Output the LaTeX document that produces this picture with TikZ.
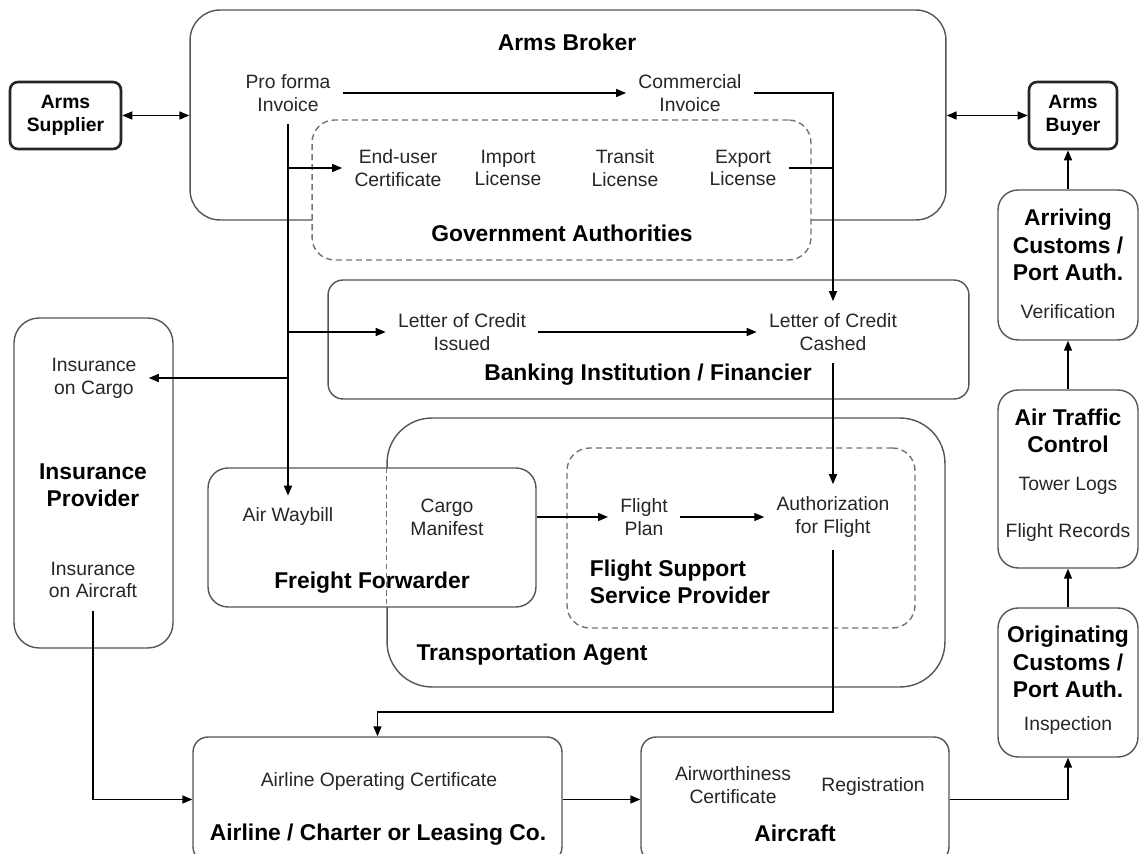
\documentclass[tikz,border=0pt]{standalone}
\usepackage{fontspec}
\setmainfont{Liberation Sans}
\usetikzlibrary{arrows.meta}
\definecolor{edgegray}{RGB}{85,85,85}
\definecolor{dashgray}{RGB}{115,115,115}
\begin{document}
\begin{tikzpicture}[x=0.02cm, y=-0.02cm,
  groupbox/.style={draw=edgegray, line width=0.8pt, rounded corners=#1, inner sep=0pt},
  groupbox/.default=0.5cm,
  realm/.style={draw=dashgray, line width=0.8pt, dash pattern=on 3.5pt off 2.2pt, rounded corners=0.45cm, fill=white, inner sep=0pt},
  party/.style={draw=black!85, line width=1.5pt, rounded corners=0.16cm, align=center, font=\fontsize{11}{13}\selectfont\bfseries},
  item/.style={align=center, inner sep=0.24cm, font=\fontsize{11}{13}\selectfont, text=black!85},
  title/.style={align=center, inner sep=2pt, font=\fontsize{13}{15.5}\selectfont\bfseries},
  joinline/.style={line width=0.8pt},
  link/.style={joinline, -{Triangle[length=2mm, width=1.6mm]}},
  dlink/.style={joinline, {Triangle[length=2mm, width=1.6mm]}-{Triangle[length=2mm, width=1.6mm]}},
]
\clip (0,0) rectangle (1140,854);
% Boxes
\node[groupbox=0.6cm, minimum width=15.12cm, minimum height=4.2cm] (broker) at (568,115) {};
\node[realm, minimum width=9.98cm, minimum height=2.8cm] (gov) at (561.5,190) {};
\node[groupbox=0.3cm, minimum width=12.82cm, minimum height=2.38cm] (bank) at (648.5,339.5) {};
\node[groupbox, minimum width=3.18cm, minimum height=6.6cm] (insurer) at (93.5,483) {};
\node[groupbox=0.9cm, minimum width=11.16cm, minimum height=5.38cm] (transport) at (666,552.5) {};
\node[groupbox=0.4cm, fill=white, minimum width=6.56cm, minimum height=2.78cm] (freight) at (372,537.5) {};
\draw[dashgray, line width=0.8pt, dash pattern=on 3pt off 2pt] (transport.west |- freight.north) -- (transport.west |- freight.south);
\node[realm, minimum width=6.96cm, minimum height=3.6cm] (support) at (741,538) {};
\node[groupbox=0.3cm, minimum width=7.38cm, minimum height=2.5cm] (airline) at (377.5,799.5) {};
\node[groupbox=0.3cm, minimum width=6.16cm, minimum height=2.5cm] (aircraft) at (795,799.5) {};
\node[groupbox=0.4cm, minimum width=2.8cm, minimum height=3cm] (arriving) at (1068,265) {};
\node[groupbox=0.4cm, minimum width=2.8cm, minimum height=3.56cm] (atc) at (1068,479) {};
\node[groupbox=0.4cm, minimum width=2.8cm, minimum height=2.98cm] (origin) at (1068,682.5) {};
\node[party, minimum width=2.22cm, minimum height=1.34cm] (supplier) at (65.5,115.5) {Arms\\Supplier};
\node[party, minimum width=1.76cm, minimum height=1.34cm] (buyer) at (1073,115.5) {Arms\\Buyer};
% Texts
\node[title] (brokerT) at (567,42) {Arms Broker};
\node[item] (proforma) at (288,93) {Pro forma\\Invoice};
\node[item] (commercial) at (690,93) {Commercial\\Invoice};
\node[item] (enduser) at (398,168) {End-user\\Certificate};
\node[item] (import) at (508,168) {Import\\License};
\node[item] (transit) at (625,168) {Transit\\License};
\node[item] (export) at (743,168) {Export\\License};
\node[title] (govT) at (562,233) {Government Authorities};
\node[item] (issued) at (462,332) {Letter of Credit\\Issued};
\node[item] (cashed) at (833,332) {Letter of Credit\\Cashed};
\node[title] (bankT) at (648,375) {Banking Institution / Financier};
\node[item] (cargoins) at (94,378) {Insurance\\on Cargo};
\node[title] (insurerT) at (93,485) {Insurance\\Provider};
\node[item] (craftins) at (93,580) {Insurance\\on Aircraft};
\node[item] (waybill) at (288,517) {Air Waybill};
\node[item] (manifest) at (447,517) {Cargo\\Manifest};
\node[title] (freightT) at (372,583) {Freight Forwarder};
\node[item] (plan) at (644,517) {Flight\\Plan};
\node[item] (authorization) at (833,517) {Authorization\\for Flight};
\node[title, align=left, anchor=west] (supportT) at (586,582) {Flight Support\\Service Provider};
\node[title] (transportT) at (532,655) {Transportation Agent};
\node[item] (aoc) at (379,782) {Airline Operating Certificate};
\node[title] (airlineT) at (378,835) {Airline / Charter or Leasing Co.};
\node[item] (airworthy) at (733,785) {Airworthiness\\Certificate};
\node[item] (registration) at (873,787) {Registration};
\node[title] (aircraftT) at (795,833) {Aircraft};
\node[title] (arrivingT) at (1068,245) {Arriving\\Customs /\\Port Auth.};
\node[item] (verification) at (1068,312) {Verification};
\node[title] (atcT) at (1068,431) {Air Traffic\\Control};
\node[item] (towerlogs) at (1068,486) {Tower Logs};
\node[item] (records) at (1068,533) {Flight Records};
\node[title] (originT) at (1068,662) {Originating\\Customs /\\Port Auth.};
\node[item] (inspection) at (1068,726) {Inspection};
% Flows
\draw[dlink] (supplier.east) -- (supplier.east -| broker.west);
\draw[dlink] (broker.east |- buyer.west) -- (buyer.west);
\draw[link] (proforma.east) -- (commercial.west);
\draw[link] (commercial.east) -| (cashed.north);
\draw[joinline] (export.east) -- (export.east -| cashed.north);
\draw[link] (proforma.south) -- (waybill.north);
\draw[link] (proforma.south |- enduser.west) -- (enduser.west);
\draw[link] (proforma.south |- issued.west) -- (issued.west);
\draw[link] (proforma.south |- cargoins.east) -- (cargoins.east);
\draw[link] (issued.east) -- (cashed.west);
\draw[link] (cashed.south) -- (authorization.north);
\draw[link] (freight.east |- manifest.east) -- (plan.west);
\draw[link] (plan.east) -- (authorization.west);
\coordinate (handoff) at (833,712);
\draw[link] (authorization.south) -- (handoff) -| (airline.north);
\draw[link] (craftins.south) |- (airline.west);
\draw[link] (airline.east) -- (aircraft.west);
\draw[link] (aircraft.east) -| (origin.south);
\draw[link] (origin.north) -- (atc.south);
\draw[link] (atc.north) -- (arriving.south);
\draw[link] (arriving.north) -- (arriving.north |- buyer.south);
\end{tikzpicture}
\end{document}
